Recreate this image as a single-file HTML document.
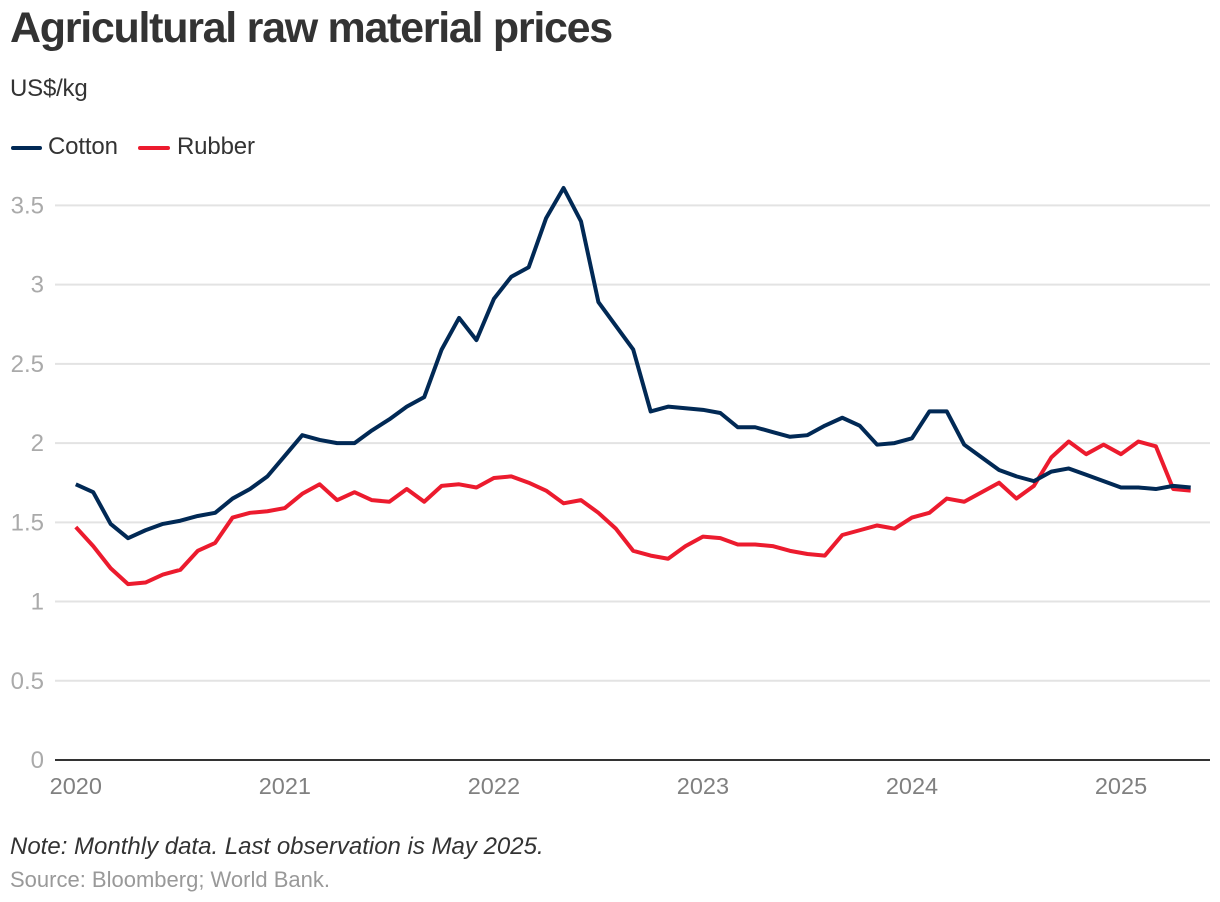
<!DOCTYPE html>
<html lang="en">
<head>
<meta charset="utf-8">
<title>Agricultural raw material prices</title>
<style>
html,body{margin:0;padding:0;background:#fff;}
body{width:1220px;height:902px;overflow:hidden;font-family:"Liberation Sans",Arial,sans-serif;}
svg{display:block;}
text{font-family:"Liberation Sans",Arial,sans-serif;}
</style>
</head>
<body>
<svg id="chart" width="1220" height="902" viewBox="0 0 1220 902" xmlns="http://www.w3.org/2000/svg">
  <text x="10" y="42" font-size="43" font-weight="700" fill="#333333" letter-spacing="-1.28">Agricultural raw material prices</text>
  <text x="10" y="96" font-size="24" letter-spacing="-0.2" fill="#333333">US$/kg</text>
  <g>
    <g>
      <line x1="13" y1="148" x2="40" y2="148" stroke="#012955" stroke-width="4" stroke-linecap="round"/>
      <text x="48" y="154" font-size="24" letter-spacing="-0.15" fill="#333333">Cotton</text>
    </g>
    <g>
      <line x1="140" y1="148" x2="168" y2="148" stroke="#ec1b2e" stroke-width="4" stroke-linecap="round"/>
      <text x="177" y="154" font-size="24" letter-spacing="-0.15" fill="#333333">Rubber</text>
    </g>
  </g>
  <g id="grid"></g>
  <g id="yticks"></g>
  <g id="xticks"></g>
  <line x1="55" y1="760" x2="1210" y2="760" stroke="#333333" stroke-width="2"/>
  <g id="series"></g>
  <text x="10" y="854" font-size="24" font-style="italic" fill="#333333">Note: Monthly data. Last observation is May 2025.</text>
  <text x="10" y="887" font-size="22" fill="#999999">Source: Bloomberg; World Bank.</text>
</svg>
<script>
const yTicks = [0, 0.5, 1, 1.5, 2, 2.5, 3, 3.5];
const xTickYears = [2020, 2021, 2022, 2023, 2024, 2025];
const cotton = [
  1.74,1.69,1.49,1.40,1.45,1.49,1.51,1.54,1.56,1.65,1.71,1.79,
  1.92,2.05,2.02,2.00,2.00,2.08,2.15,2.23,2.29,2.59,2.79,2.65,
  2.91,3.05,3.11,3.42,3.61,3.40,2.89,2.74,2.59,2.20,2.23,2.22,
  2.21,2.19,2.10,2.10,2.07,2.04,2.05,2.11,2.16,2.11,1.99,2.00,
  2.03,2.20,2.20,1.99,1.91,1.83,1.79,1.76,1.82,1.84,1.80,1.76,
  1.72,1.72,1.71,1.73,1.72
];
const rubber = [
  1.47,1.35,1.21,1.11,1.12,1.17,1.20,1.32,1.37,1.53,1.56,1.57,
  1.59,1.68,1.74,1.64,1.69,1.64,1.63,1.71,1.63,1.73,1.74,1.72,
  1.78,1.79,1.75,1.70,1.62,1.64,1.56,1.46,1.32,1.29,1.27,1.35,
  1.41,1.40,1.36,1.36,1.35,1.32,1.30,1.29,1.42,1.45,1.48,1.46,
  1.53,1.56,1.65,1.63,1.69,1.75,1.65,1.73,1.91,2.01,1.93,1.99,
  1.93,2.01,1.98,1.71,1.70
];

const NS = 'http://www.w3.org/2000/svg';
const startYear = 2020;
function xScale(monthIndex) { return 75.8 + monthIndex * 17.42; }
function yScale(value) { return 760 - value * 158.45; }

const grid = document.getElementById('grid');
const yLabels = document.getElementById('yticks');
yTicks.forEach(function (t) {
  if (t !== 0) {
    const line = document.createElementNS(NS, 'line');
    
    
    line.setAttribute('x1', 55);
    line.setAttribute('x2', 1210);
    line.setAttribute('y1', yScale(t));
    line.setAttribute('y2', yScale(t));
    line.setAttribute('stroke', '#e3e3e3');
    line.setAttribute('stroke-width', 2);
    grid.appendChild(line);
  }
  const label = document.createElementNS(NS, 'text');
  
  
  label.setAttribute('x', 44);
  label.setAttribute('y', yScale(t) + 8);
  label.setAttribute('text-anchor', 'end');
  label.setAttribute('font-size', 24);
  label.setAttribute('fill', '#aaaaaa');
  label.textContent = String(t);
  yLabels.appendChild(label);
});

const xLabels = document.getElementById('xticks');
xTickYears.forEach(function (year) {
  const label = document.createElementNS(NS, 'text');
  
  
  label.setAttribute('x', xScale((year - startYear) * 12));
  label.setAttribute('y', 794);
  label.setAttribute('text-anchor', 'middle');
  label.setAttribute('font-size', 23.5);
  label.setAttribute('fill', '#808080');
  label.textContent = String(year);
  xLabels.appendChild(label);
});

function drawSeries(values, color, name) {
  const path = document.createElementNS(NS, 'path');
  
  
  path.setAttribute('d', values.map(function (v, i) {
    return (i ? 'L' : 'M') + xScale(i).toFixed(2) + ' ' + yScale(v).toFixed(2);
  }).join(' '));
  path.setAttribute('fill', 'none');
  path.setAttribute('stroke', color);
  path.setAttribute('stroke-width', 4);
  path.setAttribute('stroke-linejoin', 'round');
  document.getElementById('series').appendChild(path);
}
drawSeries(rubber, '#ec1b2e', 'rubber-line');
drawSeries(cotton, '#012955', 'cotton-line');
</script>
</body>
</html>
